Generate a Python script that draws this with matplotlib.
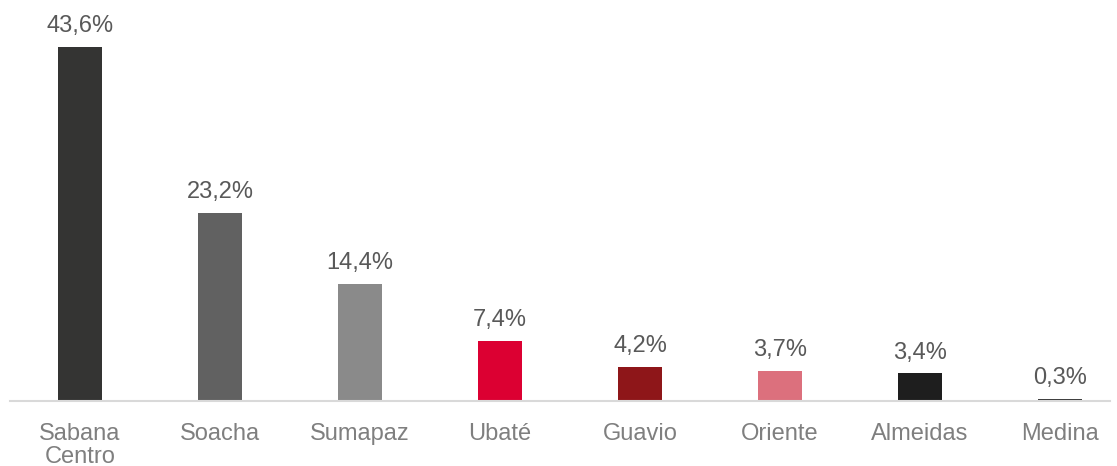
import matplotlib
matplotlib.use('Agg')
import matplotlib.pyplot as plt

plt.rcParams['font.family'] = ['Liberation Sans', 'DejaVu Sans']

categories = ['Sabana\nCentro', 'Soacha', 'Sumapaz', 'Ubaté', 'Guavio', 'Oriente', 'Almeidas', 'Medina']
values = [43.6, 23.2, 14.4, 7.4, 4.2, 3.7, 3.4, 0.3]
labels = ['43,6%', '23,2%', '14,4%', '7,4%', '4,2%', '3,7%', '3,4%', '0,3%']
colors = ['#343433', '#616161', '#8a8a8a', '#dc0032', '#8e1619', '#dc707d', '#1e1e1e', '#3a3a3a']

W, H = 1117, 466
fig = plt.figure(figsize=(W / 100, H / 100), dpi=100)
ax = fig.add_axes([10 / W, (H - 401) / H, 1100 / W, 401 / H])

x = list(range(len(categories)))
ax.bar(x, values, width=44 / 140, color=colors, zorder=2)
for xi, v, lab in zip(x, values, labels):
    ax.text(xi, v + 1.2, lab, ha='center', va='bottom', fontsize=17, color='#595959')

ax.set_xlim(-0.5, 1030 / 140)
ax.set_ylim(0, 401 / 8.12)
for s in ['top', 'right', 'left']:
    ax.spines[s].set_visible(False)
ax.spines['bottom'].set_color('#d9d9d9')
ax.spines['bottom'].set_linewidth(1.5)
ax.set_yticks([])
ax.set_xticks(x)
ax.set_xticklabels(categories, fontsize=17, color='#7f7f7f', linespacing=1.04)
ax.tick_params(axis='x', length=0, pad=16)

fig.savefig('out.png', dpi=100)
